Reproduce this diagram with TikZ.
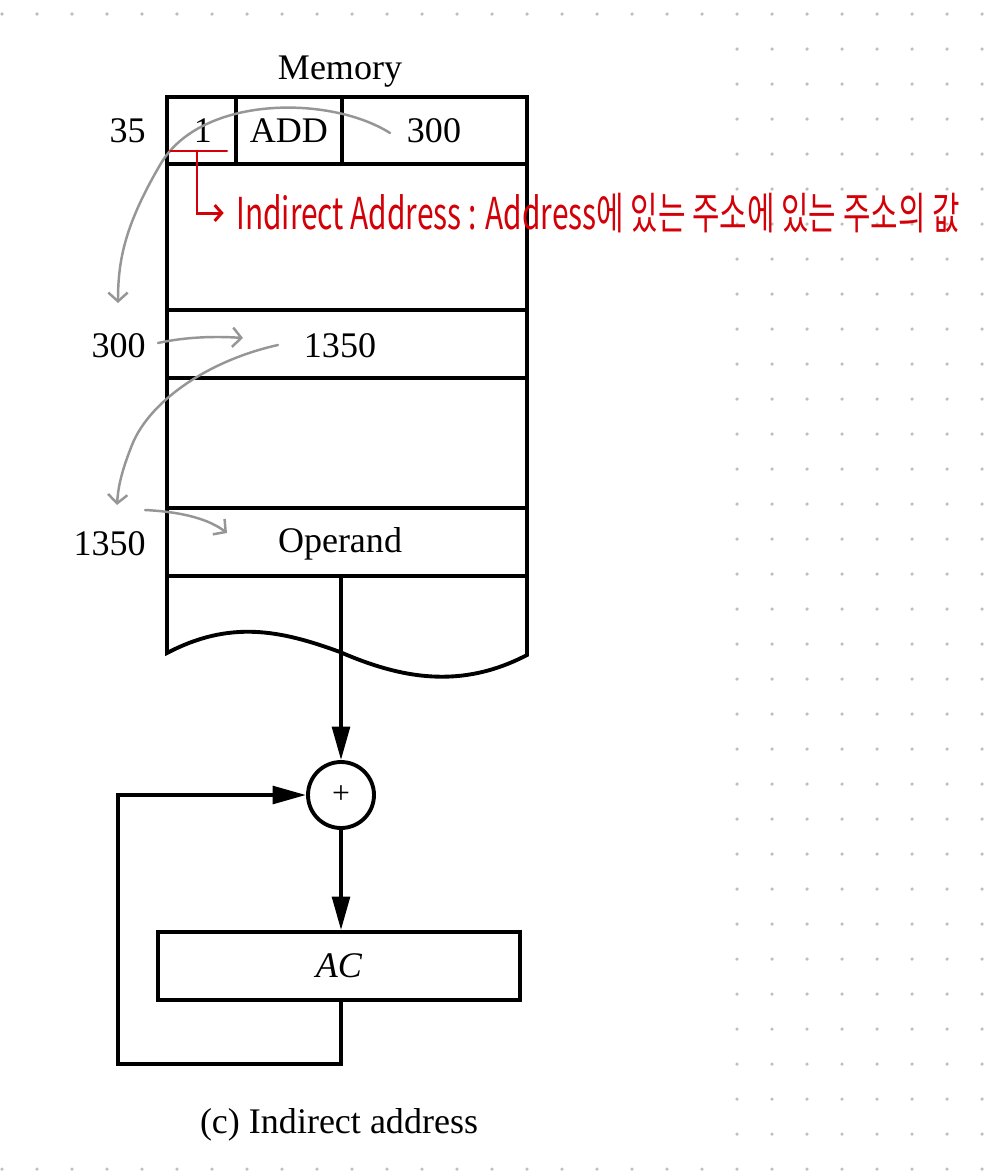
\documentclass[tikz,border=0pt]{standalone}
\usepackage{fontspec}
\setmainfont{Liberation Serif}
\newfontfamily\handfont[FakeStretch=0.68]{Noto Sans CJK KR}
\usetikzlibrary{arrows.meta,positioning,calc}
\definecolor{penred}{RGB}{212,0,8}
\definecolor{pengray}{RGB}{150,150,150}
\definecolor{dotgray}{RGB}{190,190,190}

\tikzset{
  memline/.style={line width=2.2pt},
  cell/.style={font=\fontsize{20.5}{24}\selectfont, inner sep=0pt},
  flow/.style={line width=2.2pt, -{Triangle[length=19pt,width=10pt]}},
  pen/.style={pengray, line width=1.4pt, line cap=round, -{Straight Barb[length=5pt,width=11pt]}},
  redpen/.style={penred, line width=1.7pt, line cap=round},
}

\begin{document}
\begin{tikzpicture}[x=0.02cm,y=-0.02cm]
  \useasboundingbox[fill=white] (0,0) rectangle (999,1174);
  % dotted notebook page
  \foreach \i in {0,...,28} {
    \fill[dotgray] (2+35*\i,14) circle (1pt);
    \fill[dotgray] (2+35*\i,1169) circle (1pt);
  }
  \foreach \i in {0,...,7}
    \foreach \j in {1,...,32}
      \fill[dotgray] (737+35*\i,14+35*\j) circle (1pt);

  % memory
  \node[cell] (memlabel) at (340,72) {Memory};
  \draw[memline] (167,97) rectangle (527,164);
  \draw[memline] (236,97) -- (236,164) (342,97) -- (342,164);
  \draw[memline] (527,164) -- (527,655)
    .. controls (460,690) and (400,678) .. (340,652)
    .. controls (280,630) and (230,620) .. (167,653) -- (167,164);
  \foreach \y in {310,378,508,576}
    \draw[memline] (167,\y) -- (527,\y);

  \node[cell] (ibit) at (203,131) {1};
  \node[cell] (iop) at (289,131) {ADD};
  \node[cell] (iaddr) at (434,131) {300};
  \node[cell] (m300) at (340,346) {1350};
  \node[cell] (opnd) at (340,544) {Operand};

  \node[cell,anchor=east] (a35) at (146,131) {35};
  \node[cell,anchor=east] (a300) at (146,346) {300};
  \node[cell,anchor=east] (a1350) at (146,544) {1350};

  % adder and accumulator
  \coordinate (rowend) at (341,576);
  \node[draw,memline,circle,minimum size=1.32cm,inner sep=0pt,
        font=\fontsize{18}{18}\selectfont] (sum) at (341,795) {+};
  \node[draw,memline,minimum width=7.24cm,minimum height=1.36cm,inner sep=0pt,
        font=\fontsize{20.5}{24}\selectfont\itshape] (ac) at (339,966) {AC};
  \draw[flow] (rowend) -- (sum);
  \draw[flow] (sum) -- (sum |- ac.north);
  \draw[flow] (ac.south -| sum) -- ++(0,62) -- ++(-223,0) |- (sum.west);

  \node[cell] (caption) at (339,1125) {(c) Indirect address};

  % hand-drawn notes
  \coordinate (p1) at (390,133);
  \coordinate (p2) at (118,303);
  \draw[pen] (p1) .. controls (330,95) and (200,95) .. (160,165)
    .. controls (125,225) and (118,260) .. (p2);
  \coordinate (p3) at (158,343);
  \coordinate (p4) at (243,338);
  \draw[pen] (p3) .. controls (185,337) and (215,336) .. (p4);
  \coordinate (p5) at (278,345);
  \coordinate (p6) at (117,505);
  \draw[pen] (p5) .. controls (210,360) and (150,400) .. (132,445)
    .. controls (120,475) and (118,490) .. (p6);
  \coordinate (p7) at (145,510);
  \coordinate (p8) at (227,533);
  \draw[pen] (p7) .. controls (185,512) and (210,520) .. (p8);

  \coordinate (brk) at (197,151);
  \node[penred,anchor=west,inner sep=0pt,
        font=\handfont\fontsize{25}{28}\selectfont] (note) at (236,213)
    {Indirect Address : Address에 있는 주소에 있는 주소의 값};
  \draw[redpen] ([xshift=-15]brk) -- ([xshift=17]brk);
  \draw[redpen,-{Straight Barb[length=4pt,width=9pt]}] (brk) |- ([xshift=-7]note.west);
\end{tikzpicture}
\end{document}
